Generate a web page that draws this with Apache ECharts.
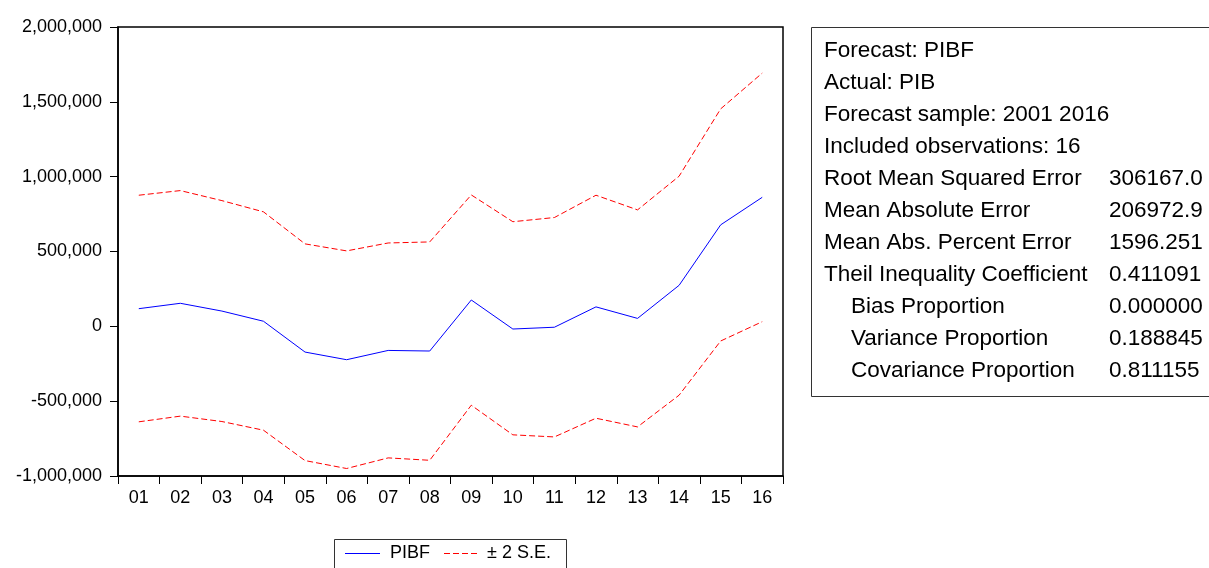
<!DOCTYPE html>
<html>
<head>
<meta charset="utf-8">
<script src="https://cdn.jsdelivr.net/npm/echarts@6/dist/echarts.min.js"></script>
<style>
  html, body { margin: 0; padding: 0; background: #fff; }
  #chart { width: 1209px; height: 568px; }
</style>
</head>
<body>
<div id="chart"></div>
<script>
// Forecast sample 2001-2016, labelled by two-digit year
const years = ['01','02','03','04','05','06','07','08','09','10','11','12','13','14','15','16'];

// Forecast PIBF
const pibf = [118000, 154000, 102000, 34000, -172000, -223000, -161000, -165000,
              176000, -18000, -6000, 130000, 53000, 274000, 678000, 862000];

// Upper band: forecast + 2 S.E.
const upperSE = [876000, 907000, 840000, 765000, 551000, 504000, 557000, 564000,
                 878000, 699000, 727000, 876000, 778000, 1003000, 1453000, 1692000];

// Lower band: forecast - 2 S.E.
const lowerSE = [-638000, -600000, -636000, -694000, -897000, -950000, -879000, -895000,
                 -527000, -725000, -739000, -614000, -672000, -460000, -98000, 31000];

const yTicks = { min: -1000000, max: 2000000, step: 500000 };

// Forecast evaluation statistics
const statLabels = [
  'Forecast: PIBF',
  'Actual: PIB',
  'Forecast sample: 2001 2016',
  'Included observations: 16',
  'Root Mean Squared Error',
  'Mean Absolute Error',
  'Mean Abs. Percent Error',
  'Theil Inequality Coefficient',
  '   Bias Proportion',
  '   Variance Proportion',
  '   Covariance Proportion'
];
const statValues = ['', '', '', '', '306167.0', '206972.9', '1596.251', '0.411091', '0.000000', '0.188845', '0.811155'];

const legendNames = ['PIBF', '± 2 S.E.'];

const FONT = '"Liberation Sans", Arial, sans-serif';

const statsText = [];
statLabels.forEach((lab, i) => {
  const indent = lab.startsWith('   ');
  statsText.push({
    type: 'text', x: indent ? 851 : 824, y: 51 + i * 32,
    style: { text: lab.trim(), font: '22.5px ' + FONT, fill: '#000', verticalAlign: 'middle' }
  });
  if (statValues[i]) {
    statsText.push({
      type: 'text', x: 1109, y: 51 + i * 32,
      style: { text: statValues[i], font: '22.5px ' + FONT, fill: '#000', verticalAlign: 'middle' }
    });
  }
});

// Legend box below the plot: solid blue for the forecast, dashed red for the bands
const legendItems = [
  { type: 'rect', shape: { x: 334.5, y: 539.5, width: 232, height: 40 },
    style: { fill: '#fff', stroke: '#333', lineWidth: 1 } },
  { type: 'line', shape: { x1: 345, y1: 553.5, x2: 380, y2: 553.5 },
    style: { stroke: '#0000ff', lineWidth: 1 } },
  { type: 'text', x: 390, y: 553, style: { text: legendNames[0], font: '18px ' + FONT, fill: '#000', verticalAlign: 'middle' } },
  { type: 'line', shape: { x1: 444, y1: 553.5, x2: 477, y2: 553.5 },
    style: { stroke: '#ff0000', lineWidth: 1, lineDash: [6, 3] } },
  { type: 'text', x: 487, y: 553, style: { text: legendNames[1], font: '18px ' + FONT, fill: '#000', verticalAlign: 'middle' } }
];

const chart = echarts.init(document.getElementById('chart'), null, { renderer: 'canvas' });
chart.setOption({
  animation: false,
  backgroundColor: '#fff',
  grid: { left: 118, right: 426, top: 27, bottom: 92, show: true, borderColor: '#000', borderWidth: 1.5 },
  xAxis: {
    type: 'category', data: years, boundaryGap: true,
    axisLine: { onZero: false, lineStyle: { color: '#000', width: 1.5 } },
    axisTick: { show: true, interval: 0, length: 8, lineStyle: { color: '#000' } },
    axisLabel: { interval: 0, color: '#000', fontFamily: FONT, fontSize: 18, margin: 13 },
    splitLine: { show: false }
  },
  yAxis: {
    type: 'value', min: yTicks.min, max: yTicks.max, interval: yTicks.step,
    axisLine: { show: true, lineStyle: { color: '#000', width: 1.5 } },
    axisTick: { show: true, length: 8, lineStyle: { color: '#000' } },
    axisLabel: {
      color: '#000', fontFamily: FONT, fontSize: 18, margin: 16,
      formatter: v => v.toLocaleString('en-US')
    },
    splitLine: { show: false }
  },
  series: [
    {
      name: legendNames[0], type: 'line', data: pibf, symbol: 'none',
      lineStyle: { color: '#0000ff', width: 1 }, itemStyle: { color: '#0000ff' }
    },
    {
      name: legendNames[1], type: 'line', data: upperSE, symbol: 'none',
      lineStyle: { color: '#ff0000', width: 1, type: [6, 3] }, itemStyle: { color: '#ff0000' }
    },
    {
      name: legendNames[1], type: 'line', data: lowerSE, symbol: 'none',
      lineStyle: { color: '#ff0000', width: 1, type: [6, 3] }, itemStyle: { color: '#ff0000' }
    }
  ],
  graphic: [
    {
      type: 'rect', shape: { x: 811.5, y: 27.5, width: 420, height: 369 },
      style: { fill: '#fff', stroke: '#333', lineWidth: 1 }
    },
    ...statsText,
    ...legendItems
  ]
});
</script>
</body>
</html>
